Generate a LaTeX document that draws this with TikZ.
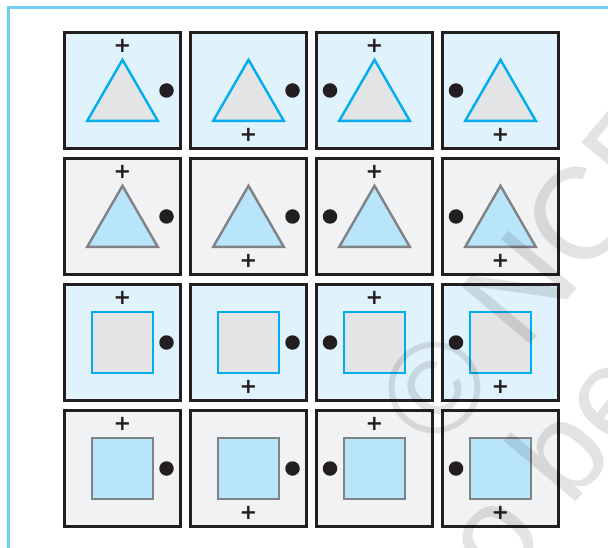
\documentclass[tikz,border=0pt]{standalone}
\usepackage{fontspec}
\newfontfamily\markfont{DejaVu Sans}
\newfontfamily\stampfont{Liberation Sans}
\usetikzlibrary{shapes.geometric}
\definecolor{framecyan}{HTML}{6DCFF6}
\definecolor{cellblue}{HTML}{E0F2FB}
\definecolor{cellgray}{HTML}{F1F2F3}
\definecolor{inkdark}{HTML}{231F20}
\definecolor{shapegray}{HTML}{E3E4E5}
\definecolor{shapeblue}{HTML}{B9E5FB}
\definecolor{edgecyan}{HTML}{00AEEF}
\definecolor{edgegray}{HTML}{808285}

\begin{document}
\begin{tikzpicture}[x=1pt,y=-1pt,
  cell/.style={draw=inkdark,line width=2.6pt,minimum size=116.5pt,inner sep=0pt},
  bluecell/.style={cell,fill=cellblue},
  graycell/.style={cell,fill=cellgray},
  tri/.style={regular polygon,regular polygon sides=3,minimum size=81.5pt,inner sep=0pt,line width=2.4pt,yshift=-10pt},
  bluetri/.style={tri,draw=edgecyan,fill=shapegray},
  graytri/.style={tri,draw=edgegray,fill=shapeblue},
  sq/.style={rectangle,minimum size=61pt,inner sep=0pt,line width=2.4pt},
  bluesq/.style={sq,draw=edgecyan,fill=shapegray},
  graysq/.style={sq,draw=edgegray,fill=shapeblue},
  plusmark/.style={inner sep=0pt,text=inkdark,font=\markfont\bfseries\fontsize{21}{21}\selectfont},
  plusup/.style={plusmark,yshift=44.5pt},
  plusdown/.style={plusmark,yshift=-44.5pt},
  dot/.style={circle,fill=inkdark,minimum size=14.5pt,inner sep=0pt},
  dotright/.style={dot,xshift=44pt},
  dotleft/.style={dot,xshift=-44.5pt},
  stamp/.style={anchor=base,rotate=50,inner sep=0pt,text=black,opacity=0.11,align=center,
    font=\stampfont\fontsize{130}{137}\selectfont}]
  \useasboundingbox (0,0) rectangle (608,548);
  \draw[framecyan,line width=3pt] (8,548) -- (8,8) -- (608,8);

  \path (122.5,90.5) node[bluecell] (c11) {} node[bluetri] (s11) {} node[plusup] (p11) {+} node[dotright] (d11) {};
  \path (248.5,90.5) node[bluecell] (c12) {} node[bluetri] (s12) {} node[plusdown] (p12) {+} node[dotright] (d12) {};
  \path (374.5,90.5) node[bluecell] (c13) {} node[bluetri] (s13) {} node[plusup] (p13) {+} node[dotleft] (d13) {};
  \path (500.5,90.5) node[bluecell] (c14) {} node[bluetri] (s14) {} node[plusdown] (p14) {+} node[dotleft] (d14) {};

  \path (122.5,216.5) node[graycell] (c21) {} node[graytri] (s21) {} node[plusup] (p21) {+} node[dotright] (d21) {};
  \path (248.5,216.5) node[graycell] (c22) {} node[graytri] (s22) {} node[plusdown] (p22) {+} node[dotright] (d22) {};
  \path (374.5,216.5) node[graycell] (c23) {} node[graytri] (s23) {} node[plusup] (p23) {+} node[dotleft] (d23) {};
  \path (500.5,216.5) node[graycell] (c24) {} node[graytri] (s24) {} node[plusdown] (p24) {+} node[dotleft] (d24) {};

  \path (122.5,342.5) node[bluecell] (c31) {} node[bluesq] (s31) {} node[plusup] (p31) {+} node[dotright] (d31) {};
  \path (248.5,342.5) node[bluecell] (c32) {} node[bluesq] (s32) {} node[plusdown] (p32) {+} node[dotright] (d32) {};
  \path (374.5,342.5) node[bluecell] (c33) {} node[bluesq] (s33) {} node[plusup] (p33) {+} node[dotleft] (d33) {};
  \path (500.5,342.5) node[bluecell] (c34) {} node[bluesq] (s34) {} node[plusdown] (p34) {+} node[dotleft] (d34) {};

  \path (122.5,468.5) node[graycell] (c41) {} node[graysq] (s41) {} node[plusup] (p41) {+} node[dotright] (d41) {};
  \path (248.5,468.5) node[graycell] (c42) {} node[graysq] (s42) {} node[plusdown] (p42) {+} node[dotright] (d42) {};
  \path (374.5,468.5) node[graycell] (c43) {} node[graysq] (s43) {} node[plusup] (p43) {+} node[dotleft] (d43) {};
  \path (500.5,468.5) node[graycell] (c44) {} node[graysq] (s44) {} node[plusdown] (p44) {+} node[dotleft] (d44) {};

  \begin{scope}
    \clip (0,0) rectangle (608,548);
    \node[stamp] (stamp1) at (624,232) {© NCERT};
    \node[stamp] (stamp2) at (729,320) {not to be republished};
  \end{scope}
\end{tikzpicture}
\end{document}
